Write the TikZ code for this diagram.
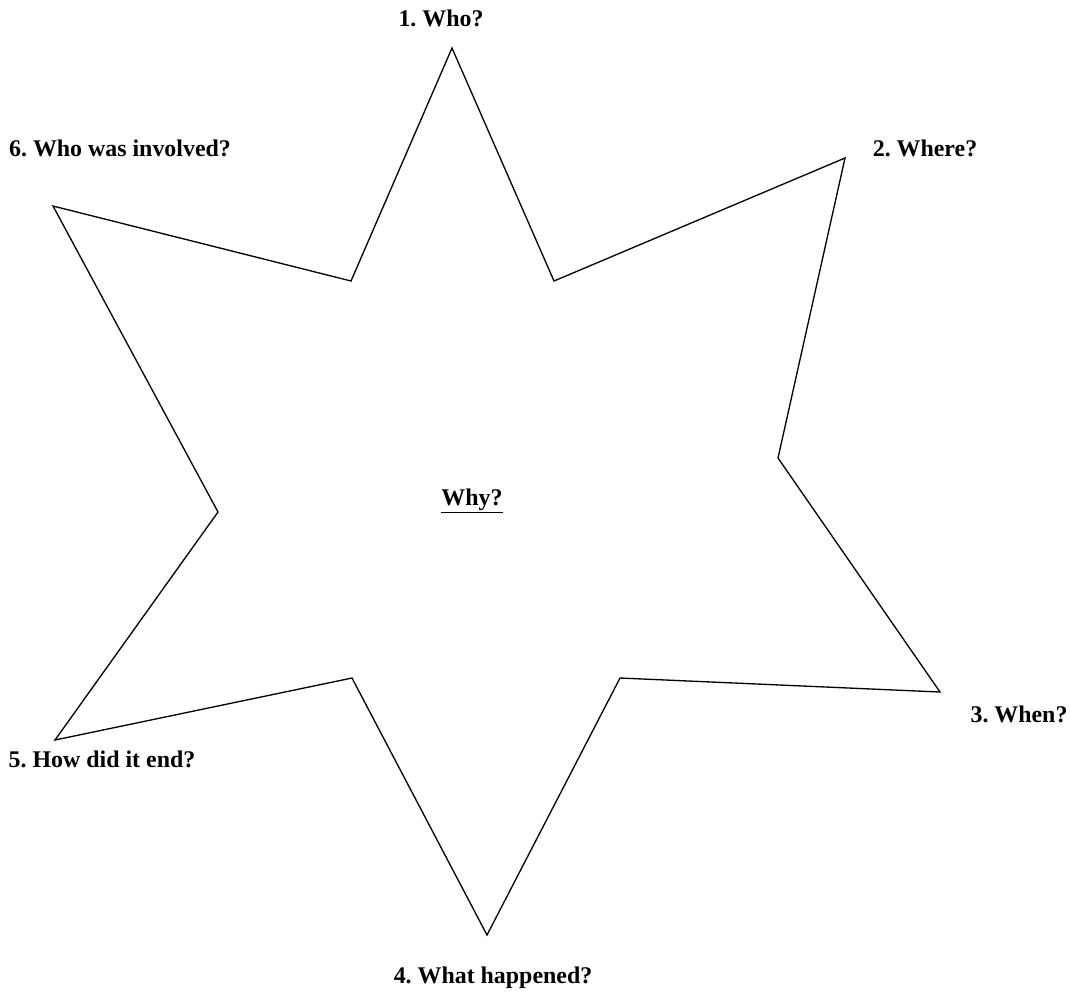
\documentclass[tikz,border=0pt]{standalone}
\usepackage{fontspec}
\setmainfont{Liberation Serif}
\frenchspacing
\begin{document}
\begin{tikzpicture}[x=0.02cm,y=-0.02cm,
  qlabel/.style={anchor=base,inner sep=0pt,font=\fontsize{13.6}{16}\selectfont\bfseries}]
  \useasboundingbox (0,0) rectangle (1070,992);
  \draw[line width=0.75pt,line join=miter]
    (452,48) -- (554,281) -- (845,158) -- (778,458) -- (940,692) -- (620,678)
    -- (487,935) -- (352,678) -- (55,740) -- (218,512) -- (53,206) -- (351,281)
    -- cycle;
  \node[qlabel] (who) at (441,26) {1. Who?};
  \node[qlabel] (where) at (925,156) {2. Where?};
  \node[qlabel] (when) at (1019,722) {3. When?};
  \node[qlabel] (what) at (493,983) {4. What happened?};
  \node[qlabel] (end) at (102,767) {5. How did it end?};
  \node[qlabel] (involved) at (120,156) {6. Who was involved?};
  \node[qlabel] (why) at (472,505) {\underline{Why?}};
\end{tikzpicture}
\end{document}
